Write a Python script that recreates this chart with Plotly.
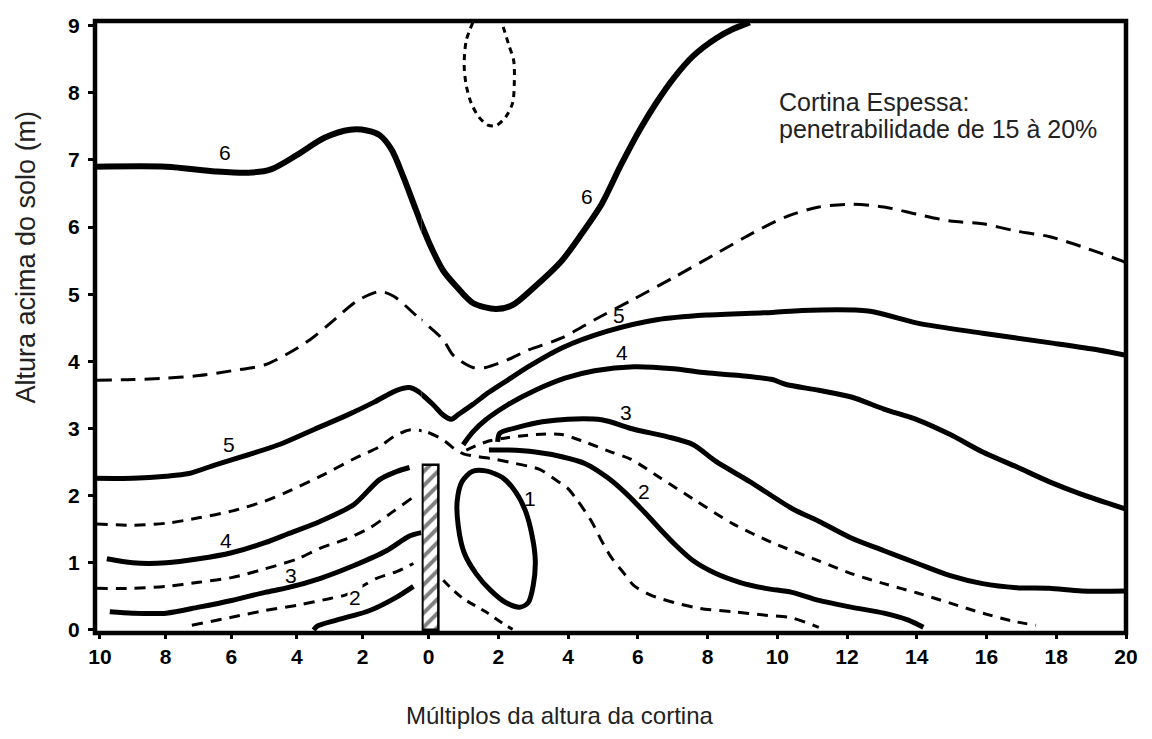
import plotly.graph_objects as go

# ---------------- data (x in multiples of windbreak height, y in m) ----------------
c6_x = [-10.15, -7.98, -6.48, -5.48, -4.79, -3.98, -3.16, -2.38, -1.87, -1.48, -1.11, -0.75, -0.36, 0.03, 0.42,
        0.79, 1.27, 1.93, 2.41, 3.06, 3.82, 4.39, 4.96, 5.52, 6.09, 6.54, 7.03, 7.59, 8.24, 8.73, 9.21]
c6_y = [6.90, 6.90, 6.83, 6.81, 6.86, 7.08, 7.33, 7.45, 7.44, 7.37, 7.15, 6.74, 6.24, 5.75, 5.35,
        5.12, 4.87, 4.78, 4.84, 5.12, 5.50, 5.90, 6.34, 6.93, 7.48, 7.86, 8.22, 8.55, 8.81, 8.95, 9.05]

top_loop_x = [1.27, 1.08, 1.02, 1.08, 1.22, 1.44, 1.70, 1.93, 2.21, 2.41, 2.46, 2.44, 2.29, 2.10]
top_loop_y = [9.05, 8.78, 8.41, 8.11, 7.85, 7.64, 7.52, 7.51, 7.64, 7.85, 8.19, 8.48, 8.73, 9.05]

d55_x = [-10.1, -9.0, -7.98, -6.99, -5.99, -4.97, -4.19, -3.58, -2.98, -2.17, -1.48, -1.05, -0.36, 0.42, 0.71,
         1.27, 1.64, 2.29, 2.86, 3.82, 4.76, 5.89, 7.03, 8.16, 9.29, 10.23, 11.19, 12.12, 13.06, 14.02,
         14.96, 15.89, 16.86, 17.79, 18.73, 19.86, 20.0]
d55_y = [3.72, 3.73, 3.75, 3.79, 3.86, 3.95, 4.14, 4.33, 4.57, 4.90, 5.04, 4.97, 4.68, 4.32, 4.09,
         3.91, 3.91, 4.03, 4.17, 4.35, 4.62, 4.93, 5.25, 5.58, 5.91, 6.15, 6.30, 6.34, 6.30, 6.19,
         6.09, 6.05, 5.94, 5.86, 5.71, 5.50, 5.47]

c5_x = [-10.15, -9.0, -7.98, -7.29, -6.48, -5.48, -4.49, -3.46, -2.47, -1.66, -0.96, -0.57, -0.27, 0.14, 0.42,
        0.65, 0.88, 1.27, 1.73, 2.29, 2.92, 3.82, 5.13, 6.54, 7.96, 9.86, 10.71, 12.61, 14.02, 15.89,
        17.79, 19.21, 20.0]
c5_y = [2.26, 2.26, 2.29, 2.33, 2.46, 2.61, 2.77, 2.99, 3.20, 3.39, 3.57, 3.61, 3.54, 3.35, 3.20,
        3.14, 3.22, 3.36, 3.54, 3.73, 3.94, 4.20, 4.45, 4.62, 4.69, 4.73, 4.76, 4.75, 4.57, 4.42,
        4.28, 4.17, 4.09]

c4r_x = [0.99, 1.27, 1.64, 2.29, 3.06, 3.91, 4.76, 5.89, 7.03, 7.96, 8.92, 9.86, 10.23, 11.19, 12.12,
         13.06, 14.02, 14.96, 15.89, 16.86, 17.79, 18.73, 20.0]
c4r_y = [2.76, 2.95, 3.13, 3.36, 3.57, 3.75, 3.86, 3.92, 3.89, 3.83, 3.79, 3.73, 3.66, 3.57, 3.47,
         3.29, 3.13, 2.91, 2.65, 2.43, 2.21, 2.02, 1.80]

c3r_x = [1.98, 2.04, 2.58, 3.26, 3.99, 4.96, 5.89, 6.83, 7.59, 8.24, 9.21, 10.42, 11.19, 12.12, 13.06,
         14.02, 14.96, 15.89, 16.86, 17.79, 18.73, 20.0]
c3r_y = [2.80, 2.93, 3.02, 3.10, 3.14, 3.13, 2.99, 2.88, 2.76, 2.51, 2.21, 1.81, 1.62, 1.37, 1.18,
         0.99, 0.81, 0.69, 0.63, 0.62, 0.58, 0.58]

d25r_x = [1.08, 1.64, 2.21, 3.06, 3.82, 4.48, 5.24, 5.81, 6.66, 7.59, 8.73, 9.86, 11.19, 12.12, 13.06,
          14.02, 14.96, 15.89, 16.86, 17.42]
d25r_y = [2.68, 2.80, 2.86, 2.91, 2.91, 2.80, 2.65, 2.54, 2.26, 1.95, 1.58, 1.30, 1.03, 0.84, 0.69,
          0.55, 0.40, 0.25, 0.12, 0.07]

c2r_x = [1.73, 2.29, 3.06, 3.82, 4.48, 5.13, 5.69, 6.18, 6.66, 7.11, 7.59, 8.24, 8.92, 9.66, 10.42,
         11.19, 12.12, 13.06, 13.74, 14.19]
c2r_y = [2.68, 2.68, 2.65, 2.58, 2.48, 2.27, 2.02, 1.76, 1.49, 1.25, 1.03, 0.84, 0.71, 0.62, 0.56,
         0.44, 0.34, 0.25, 0.15, 0.04]

d45_x = [-10.1, -9.0, -7.98, -6.99, -5.99, -4.97, -4.28, -3.28, -2.26, -1.48, -1.05, -0.57, -0.06, 0.42, 0.79,
         1.02, 1.44, 1.93, 2.49, 3.20, 3.63, 3.99, 4.28, 4.67, 4.96, 5.24, 5.61, 5.89, 6.37, 7.03,
         7.79, 8.73, 9.66, 10.42, 11.19]
d45_y = [1.58, 1.56, 1.59, 1.67, 1.77, 1.92, 2.06, 2.29, 2.55, 2.73, 2.88, 2.98, 2.95, 2.83, 2.68,
         2.62, 2.58, 2.54, 2.48, 2.39, 2.24, 2.11, 1.92, 1.62, 1.33, 1.08, 0.84, 0.66, 0.52, 0.41,
         0.32, 0.27, 0.22, 0.18, 0.04]

c4l_x = [-9.79, -9.0, -7.98, -6.99, -5.99, -4.97, -4.28, -3.28, -2.26, -1.48, -0.96, -0.57]
c4l_y = [1.06, 1.00, 1.00, 1.06, 1.15, 1.30, 1.43, 1.62, 1.87, 2.24, 2.36, 2.42]

d35_x = [-10.1, -9.0, -7.98, -6.99, -5.99, -4.97, -3.98, -3.28, -2.47, -1.78, -1.05, -0.51]
d35_y = [0.62, 0.62, 0.65, 0.71, 0.78, 0.91, 1.06, 1.22, 1.36, 1.52, 1.77, 1.96]

c3l_x = [-9.70, -9.0, -7.98, -6.99, -5.99, -4.97, -4.28, -3.28, -2.26, -1.27, -0.57, -0.21]
c3l_y = [0.27, 0.25, 0.25, 0.34, 0.44, 0.56, 0.63, 0.77, 0.96, 1.18, 1.40, 1.45]

d25l_x = [-7.20, -5.99, -4.97, -3.98, -2.98, -2.47, -1.57, -0.96, -0.45]
d25l_y = [0.07, 0.19, 0.29, 0.37, 0.47, 0.53, 0.77, 0.87, 0.99]

c2l_x = [-3.49, -3.37, -2.77, -1.78, -0.96, -0.45]
c2l_y = [0.00, 0.06, 0.15, 0.29, 0.49, 0.65]

d15l_x = [0.42, 0.71, 0.99, 1.64, 2.21, 2.41]
d15l_y = [0.74, 0.59, 0.47, 0.27, 0.07, 0.01]

c1_x = [1.64, 2.12, 2.49, 2.78, 2.97, 3.06, 3.00, 2.86, 2.61, 2.21, 1.78, 1.36, 1.02, 0.85, 0.82, 0.96, 1.25, 1.64]
c1_y = [2.37, 2.27, 2.06, 1.77, 1.40, 1.03, 0.66, 0.41, 0.34, 0.41, 0.59, 0.84, 1.15, 1.55, 1.92, 2.21, 2.36, 2.37]

windbreak_x = [0.055]
windbreak_h = [2.46]
windbreak_w = [0.45]

label_text = ["6", "6", "5", "5", "4", "4", "3", "3", "2", "2", "1"]
label_x = [-6.2, 4.53, -6.08, 5.47, -6.17, 5.55, -4.19, 5.67, -2.23, 6.18, 2.92]
label_y = [7.11, 6.45, 2.76, 4.69, 1.33, 4.13, 0.81, 3.24, 0.49, 2.06, 1.96]
label_bg = [False, False, False, False, False, False, False, False, True, False, False]

note_lines = ["Cortina Espessa:", "penetrabilidade de 15 à 20%"]
note_x = [10.0, 10.0]
note_y = [7.86, 7.46]

x_left_ticks = [-10, -8, -6, -4, -2]
x_left_text = ["10", "8", "6", "4", "2"]
x_right_ticks = [0, 2, 4, 6, 8, 10, 12, 14, 16, 18, 20]
x_right_text = ["0", "2", "4", "6", "8", "10", "12", "14", "16", "18", "20"]
y_ticks = [0, 1, 2, 3, 4, 5, 6, 7, 8, 9]

# The hand-drawn original uses a slightly tighter scale upwind of the screen
# than downwind, so two x axes share the frame (split just left of the screen).
SPLIT = -0.2
LEFT_RANGE = [-10.15, SPLIT]
RIGHT_RANGE = [SPLIT, 20.0]
SPLIT_PAPER = 0.3168

fig = go.Figure()

fig.add_trace(go.Bar(
    x=windbreak_x, y=windbreak_h, width=windbreak_w, base=0, xaxis="x2", yaxis="y",
    marker=dict(color="white", line=dict(color="black", width=2.5),
                pattern=dict(shape="/", fgcolor="black", bgcolor="white", size=10, solidity=0.4)),
    hoverinfo="skip", showlegend=False))


def _scatter(xs, ys, axis, width, dash):
    fig.add_trace(go.Scatter(x=xs, y=ys, xaxis=axis, yaxis="y", mode="lines",
                             line=dict(color="black", width=width, dash=dash, shape="spline", smoothing=0.8),
                             hoverinfo="skip", showlegend=False))


def add_line(xs, ys, width=4.5, dash="solid"):
    if max(xs) <= SPLIT:
        _scatter(xs, ys, "x", width, dash)
    elif min(xs) > SPLIT:
        _scatter(xs, ys, "x2", width, dash)
    else:
        k = max(i for i, v in enumerate(xs) if v <= SPLIT)
        _scatter(xs[:k + 3], ys[:k + 3], "x", width, dash)
        _scatter(xs[k - 1:], ys[k - 1:], "x2", width, dash)


add_line(c6_x, c6_y, width=6)
add_line(top_loop_x, top_loop_y, width=3, dash="6px,5px")
add_line(d55_x, d55_y, width=3, dash="15px,9px")
add_line(c5_x, c5_y, width=5)
add_line(c4r_x, c4r_y, width=5)
add_line(c3r_x, c3r_y, width=5)
add_line(d25r_x, d25r_y, width=3, dash="10px,8px")
add_line(c2r_x, c2r_y, width=5)
add_line(d45_x, d45_y, width=3, dash="11px,8px")
add_line(c4l_x, c4l_y, width=5)
add_line(d35_x, d35_y, width=3, dash="11px,8px")
add_line(c3l_x, c3l_y, width=5)
add_line(d25l_x, d25l_y, width=3, dash="11px,8px")
add_line(c2l_x, c2l_y, width=5)
add_line(d15l_x, d15l_y, width=3, dash="9px,7px")
add_line(c1_x, c1_y, width=5)

FONT = "Liberation Sans, Arial, Helvetica"
for t, lx, ly, bg in zip(label_text, label_x, label_y, label_bg):
    fig.add_annotation(x=lx, y=ly, xref="x" if lx <= SPLIT else "x2", yref="y", text=t, showarrow=False,
                       bgcolor="white" if bg else "rgba(0,0,0,0)",
                       font=dict(family=FONT, size=21, color="black"))

for t, nx, ny in zip(note_lines, note_x, note_y):
    fig.add_annotation(x=nx, y=ny, xref="x2", yref="y", xanchor="left", yanchor="middle", showarrow=False,
                       text=t, font=dict(family=FONT, size=25, color="#222"))

fig.add_annotation(xref="paper", yref="paper", x=0.4506, y=-0.1343, xanchor="center", yanchor="middle",
                   showarrow=False, text="Múltiplos da altura da cortina",
                   font=dict(family=FONT, size=24, color="#222"))
fig.add_annotation(xref="paper", yref="y", x=-0.0671, y=5.56, xanchor="center", yanchor="middle",
                   textangle=-90, showarrow=False, text="Altura acima do solo (m)",
                   font=dict(family=FONT, size=27, color="#222"))

# frame
fig.add_shape(type="rect", xref="paper", yref="paper", x0=0, x1=1, y0=0, y1=1,
              line=dict(color="black", width=4.5), layer="above")

tick_font = dict(family=FONT, size=21, color="black", weight="bold")
common_x = dict(showgrid=False, zeroline=False, showline=False, ticks="outside", ticklen=5,
                tickwidth=3, tickcolor="black", tickfont=tick_font, anchor="y", ticklabeloverflow="allow")
fig.update_layout(
    xaxis=dict(range=LEFT_RANGE, domain=[0, SPLIT_PAPER], tickvals=x_left_ticks, ticktext=x_left_text, **common_x),
    xaxis2=dict(range=RIGHT_RANGE, domain=[SPLIT_PAPER, 1], tickvals=x_right_ticks, ticktext=x_right_text,
                **common_x),
    yaxis=dict(range=[-0.045, 9.07], domain=[0, 1], tickvals=y_ticks, tickfont=tick_font, anchor="x",
               showgrid=False, zeroline=False, showline=False, ticks="outside", ticklen=6, tickwidth=3,
               tickcolor="black", ticklabelstandoff=4, ticklabeloverflow="allow"),
    width=1136, height=723, margin=dict(l=87, r=6, t=7, b=98),
    plot_bgcolor="white", paper_bgcolor="white", bargap=0, showlegend=False)

fig.write_html("out.html")
